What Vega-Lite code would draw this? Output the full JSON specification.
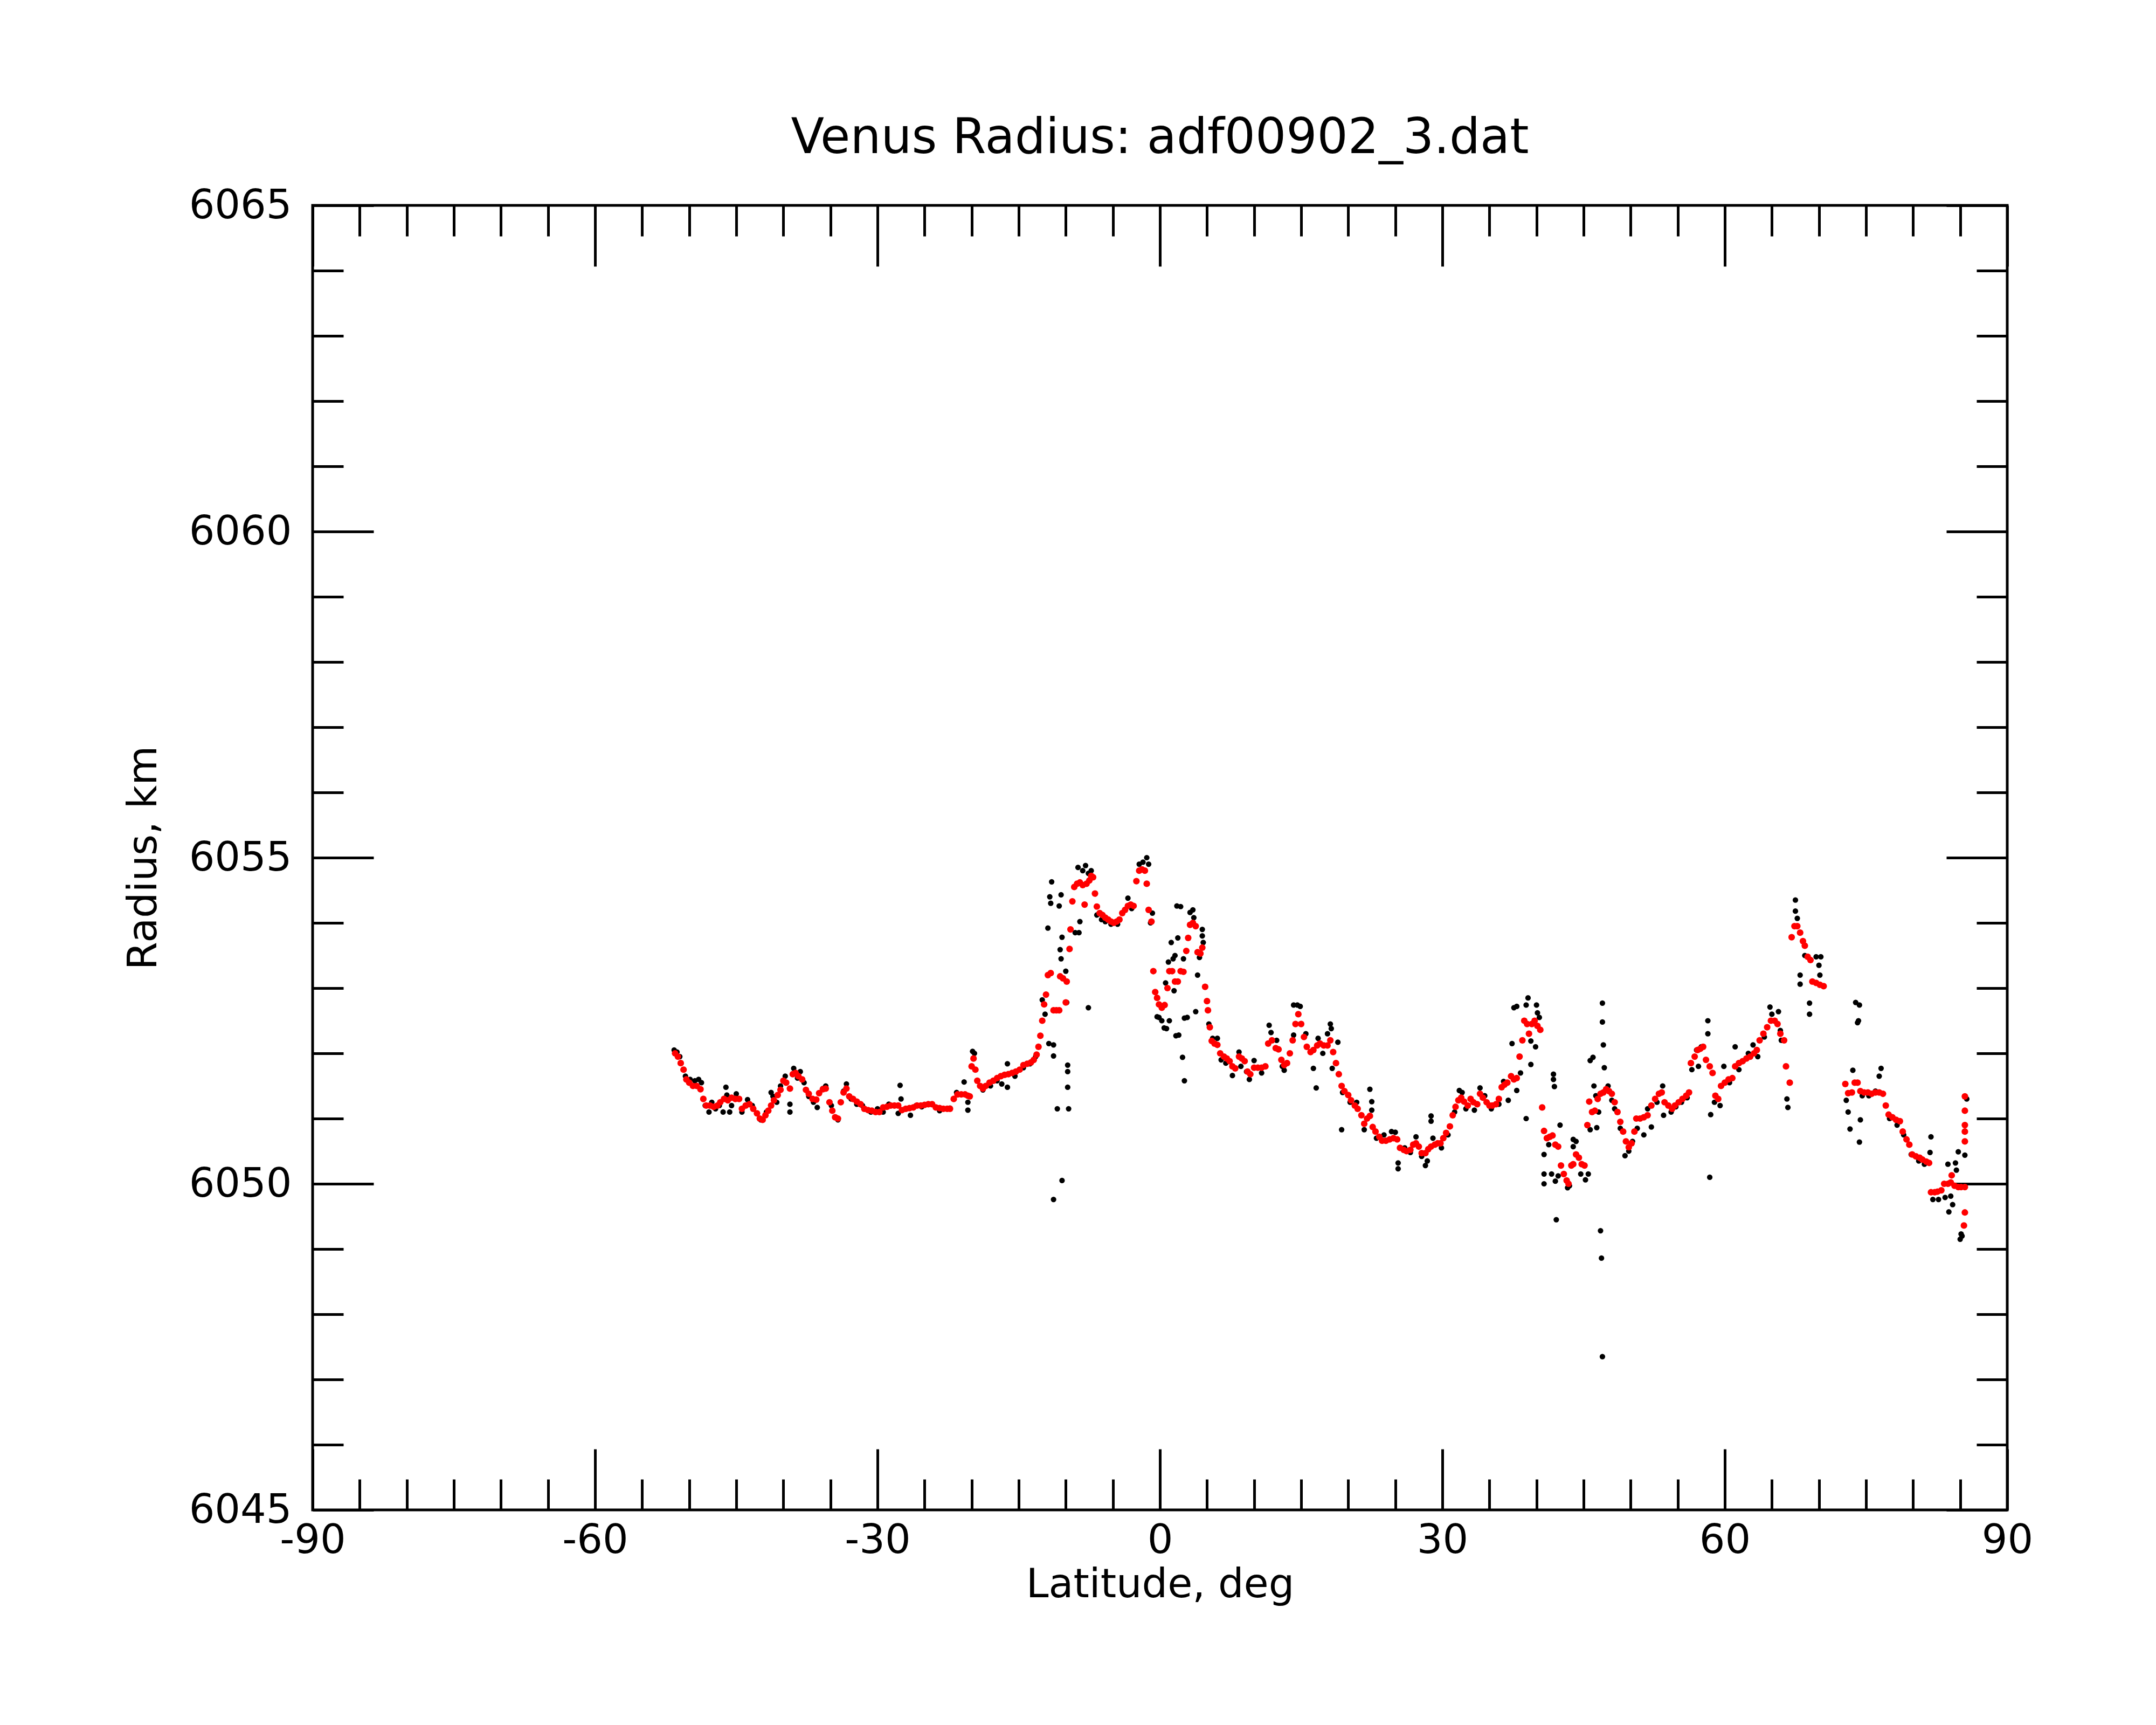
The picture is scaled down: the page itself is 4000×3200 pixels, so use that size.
{
  "$schema": "https://vega.github.io/schema/vega-lite/v6.json",
  "width": 3144,
  "height": 2420,
  "autosize": {"type": "none"},
  "padding": {"left": 580, "top": 381, "right": 276, "bottom": 399},
  "background": "white",
  "config": {
    "view": {"stroke": "black", "strokeWidth": 5},
    "font": "DejaVu Sans"
  },
  "title": {
    "text": "Venus Radius: adf00902_3.dat",
    "font": "DejaVu Sans",
    "fontSize": 90,
    "fontWeight": "normal",
    "color": "black",
    "anchor": "middle",
    "frame": "group",
    "baseline": "alphabetic",
    "offset": -30
  },
  "datasets": {
    "raw": [
      {"lat": -51.6, "rad": 6052.05}, {"lat": -51.3, "rad": 6052.02}, {"lat": -51.0, "rad": 6051.95}, {"lat": -50.4, "rad": 6051.65},
      {"lat": -49.9, "rad": 6051.6}, {"lat": -49.4, "rad": 6051.58}, {"lat": -49.0, "rad": 6051.6}, {"lat": -48.7, "rad": 6051.55},
      {"lat": -48.3, "rad": 6051.2}, {"lat": -47.9, "rad": 6051.1}, {"lat": -47.6, "rad": 6051.25}, {"lat": -47.2, "rad": 6051.15},
      {"lat": -46.8, "rad": 6051.2}, {"lat": -46.4, "rad": 6051.1}, {"lat": -46.1, "rad": 6051.48}, {"lat": -46.0, "rad": 6051.36},
      {"lat": -45.7, "rad": 6051.1}, {"lat": -45.5, "rad": 6051.2}, {"lat": -45.0, "rad": 6051.38}, {"lat": -44.4, "rad": 6051.1},
      {"lat": -43.8, "rad": 6051.29}, {"lat": -43.3, "rad": 6051.2}, {"lat": -42.4, "rad": 6050.98}, {"lat": -41.8, "rad": 6051.1},
      {"lat": -41.3, "rad": 6051.4}, {"lat": -41.1, "rad": 6051.34}, {"lat": -40.7, "rad": 6051.25}, {"lat": -40.3, "rad": 6051.5},
      {"lat": -39.8, "rad": 6051.65}, {"lat": -39.3, "rad": 6051.22}, {"lat": -39.3, "rad": 6051.1}, {"lat": -38.9, "rad": 6051.77},
      {"lat": -38.5, "rad": 6051.62}, {"lat": -38.2, "rad": 6051.72}, {"lat": -37.8, "rad": 6051.55}, {"lat": -37.3, "rad": 6051.34},
      {"lat": -36.8, "rad": 6051.25}, {"lat": -36.4, "rad": 6051.17}, {"lat": -35.8, "rad": 6051.46}, {"lat": -35.5, "rad": 6051.5},
      {"lat": -34.9, "rad": 6051.2}, {"lat": -34.2, "rad": 6050.98}, {"lat": -33.6, "rad": 6051.42}, {"lat": -33.3, "rad": 6051.53},
      {"lat": -32.8, "rad": 6051.3}, {"lat": -32.2, "rad": 6051.22}, {"lat": -31.6, "rad": 6051.2}, {"lat": -30.7, "rad": 6051.1},
      {"lat": -30.0, "rad": 6051.15}, {"lat": -29.4, "rad": 6051.1}, {"lat": -28.8, "rad": 6051.22}, {"lat": -27.8, "rad": 6051.08},
      {"lat": -27.6, "rad": 6051.51}, {"lat": -27.5, "rad": 6051.3}, {"lat": -26.5, "rad": 6051.05}, {"lat": -25.9, "rad": 6051.2},
      {"lat": -25.3, "rad": 6051.18}, {"lat": -24.2, "rad": 6051.22}, {"lat": -23.4, "rad": 6051.12}, {"lat": -22.3, "rad": 6051.16},
      {"lat": -21.6, "rad": 6051.4}, {"lat": -20.8, "rad": 6051.56}, {"lat": -20.4, "rad": 6051.25}, {"lat": -20.4, "rad": 6051.13},
      {"lat": -19.9, "rad": 6052.03}, {"lat": -19.7, "rad": 6052.0}, {"lat": -18.8, "rad": 6051.44}, {"lat": -18.0, "rad": 6051.5},
      {"lat": -17.3, "rad": 6051.58}, {"lat": -16.8, "rad": 6051.53}, {"lat": -16.2, "rad": 6051.84}, {"lat": -16.2, "rad": 6051.48},
      {"lat": -15.4, "rad": 6051.65}, {"lat": -14.5, "rad": 6051.78}, {"lat": -13.8, "rad": 6051.84}, {"lat": -13.2, "rad": 6051.95},
      {"lat": -12.5, "rad": 6052.82}, {"lat": -12.2, "rad": 6052.6}, {"lat": -11.9, "rad": 6053.92}, {"lat": -11.8, "rad": 6052.15},
      {"lat": -11.7, "rad": 6054.4}, {"lat": -11.6, "rad": 6054.3}, {"lat": -11.5, "rad": 6054.63}, {"lat": -11.3, "rad": 6052.13},
      {"lat": -11.3, "rad": 6051.96}, {"lat": -11.3, "rad": 6049.76}, {"lat": -10.9, "rad": 6051.15}, {"lat": -10.7, "rad": 6054.26},
      {"lat": -10.6, "rad": 6053.59}, {"lat": -10.5, "rad": 6054.43}, {"lat": -10.5, "rad": 6053.45}, {"lat": -10.4, "rad": 6053.78},
      {"lat": -10.4, "rad": 6050.05}, {"lat": -10.0, "rad": 6053.26}, {"lat": -9.9, "rad": 6052.78}, {"lat": -9.8, "rad": 6051.82},
      {"lat": -9.8, "rad": 6051.72}, {"lat": -9.8, "rad": 6051.48}, {"lat": -9.7, "rad": 6051.15}, {"lat": -9.0, "rad": 6053.85},
      {"lat": -8.7, "rad": 6054.85}, {"lat": -8.6, "rad": 6053.85}, {"lat": -8.5, "rad": 6054.02}, {"lat": -8.2, "rad": 6054.8},
      {"lat": -7.9, "rad": 6054.88}, {"lat": -7.6, "rad": 6054.76}, {"lat": -7.6, "rad": 6052.7}, {"lat": -7.3, "rad": 6054.8},
      {"lat": -6.7, "rad": 6054.12}, {"lat": -6.2, "rad": 6054.05}, {"lat": -5.8, "rad": 6054.02}, {"lat": -5.2, "rad": 6053.98},
      {"lat": -4.5, "rad": 6053.98}, {"lat": -3.4, "rad": 6054.38}, {"lat": -3.0, "rad": 6054.22}, {"lat": -2.2, "rad": 6054.9},
      {"lat": -1.8, "rad": 6054.93}, {"lat": -1.4, "rad": 6055.0}, {"lat": -1.2, "rad": 6054.9}, {"lat": -1.0, "rad": 6054.0},
      {"lat": -0.8, "rad": 6054.15}, {"lat": -0.3, "rad": 6052.56}, {"lat": -0.1, "rad": 6052.55}, {"lat": 0.2, "rad": 6052.5},
      {"lat": 0.45, "rad": 6052.39}, {"lat": 0.6, "rad": 6053.08}, {"lat": 0.7, "rad": 6052.38}, {"lat": 0.9, "rad": 6053.4},
      {"lat": 1.0, "rad": 6052.5}, {"lat": 1.2, "rad": 6053.7}, {"lat": 1.4, "rad": 6053.45}, {"lat": 1.5, "rad": 6052.96},
      {"lat": 1.6, "rad": 6053.5}, {"lat": 1.7, "rad": 6052.27}, {"lat": 1.8, "rad": 6054.26}, {"lat": 1.9, "rad": 6053.77},
      {"lat": 2.0, "rad": 6052.28}, {"lat": 2.2, "rad": 6054.25}, {"lat": 2.4, "rad": 6051.94}, {"lat": 2.5, "rad": 6053.45},
      {"lat": 2.6, "rad": 6052.54}, {"lat": 2.6, "rad": 6051.58}, {"lat": 2.9, "rad": 6052.55}, {"lat": 3.2, "rad": 6054.16},
      {"lat": 3.5, "rad": 6054.2}, {"lat": 3.6, "rad": 6054.08}, {"lat": 3.8, "rad": 6052.64}, {"lat": 4.0, "rad": 6053.2},
      {"lat": 4.2, "rad": 6053.47}, {"lat": 4.5, "rad": 6053.9}, {"lat": 4.5, "rad": 6053.8}, {"lat": 4.6, "rad": 6053.7},
      {"lat": 5.2, "rad": 6052.45}, {"lat": 5.6, "rad": 6052.23}, {"lat": 6.1, "rad": 6052.23}, {"lat": 6.5, "rad": 6051.9},
      {"lat": 7.0, "rad": 6051.85}, {"lat": 7.7, "rad": 6051.66}, {"lat": 8.4, "rad": 6052.02}, {"lat": 8.6, "rad": 6051.8},
      {"lat": 9.2, "rad": 6051.72}, {"lat": 9.5, "rad": 6051.6}, {"lat": 10.0, "rad": 6051.89}, {"lat": 10.8, "rad": 6051.7},
      {"lat": 11.6, "rad": 6052.43}, {"lat": 11.8, "rad": 6052.32}, {"lat": 12.4, "rad": 6052.2}, {"lat": 13.0, "rad": 6051.8},
      {"lat": 13.2, "rad": 6051.74}, {"lat": 14.2, "rad": 6052.74}, {"lat": 14.6, "rad": 6052.74}, {"lat": 14.9, "rad": 6052.72},
      {"lat": 14.2, "rad": 6052.28}, {"lat": 15.5, "rad": 6052.3}, {"lat": 16.3, "rad": 6051.77}, {"lat": 16.6, "rad": 6051.47},
      {"lat": 16.8, "rad": 6052.23}, {"lat": 17.3, "rad": 6052.0}, {"lat": 17.8, "rad": 6052.3}, {"lat": 18.1, "rad": 6052.45},
      {"lat": 18.2, "rad": 6052.38}, {"lat": 18.3, "rad": 6051.77}, {"lat": 18.9, "rad": 6052.17}, {"lat": 19.3, "rad": 6050.83},
      {"lat": 19.4, "rad": 6051.4}, {"lat": 20.2, "rad": 6051.25}, {"lat": 20.9, "rad": 6051.25}, {"lat": 21.7, "rad": 6050.83},
      {"lat": 22.3, "rad": 6051.45}, {"lat": 22.5, "rad": 6051.26}, {"lat": 22.5, "rad": 6051.13}, {"lat": 23.0, "rad": 6050.7},
      {"lat": 23.8, "rad": 6050.75}, {"lat": 24.6, "rad": 6050.8}, {"lat": 25.0, "rad": 6050.79}, {"lat": 25.3, "rad": 6050.32},
      {"lat": 25.3, "rad": 6050.23}, {"lat": 26.0, "rad": 6050.55}, {"lat": 26.6, "rad": 6050.48}, {"lat": 27.2, "rad": 6050.72},
      {"lat": 27.8, "rad": 6050.42}, {"lat": 28.2, "rad": 6050.28}, {"lat": 28.4, "rad": 6050.35}, {"lat": 28.8, "rad": 6051.04},
      {"lat": 28.8, "rad": 6050.96}, {"lat": 29.0, "rad": 6050.7}, {"lat": 29.9, "rad": 6050.55}, {"lat": 30.6, "rad": 6050.75},
      {"lat": 31.3, "rad": 6051.1}, {"lat": 31.8, "rad": 6051.43}, {"lat": 32.1, "rad": 6051.4}, {"lat": 32.5, "rad": 6051.15},
      {"lat": 33.4, "rad": 6051.13}, {"lat": 34.0, "rad": 6051.47}, {"lat": 34.5, "rad": 6051.35}, {"lat": 35.2, "rad": 6051.15},
      {"lat": 36.0, "rad": 6051.22}, {"lat": 36.5, "rad": 6051.57}, {"lat": 37.0, "rad": 6051.28}, {"lat": 37.4, "rad": 6052.15},
      {"lat": 37.6, "rad": 6052.7}, {"lat": 37.9, "rad": 6052.72}, {"lat": 37.9, "rad": 6051.43}, {"lat": 38.3, "rad": 6051.7},
      {"lat": 38.9, "rad": 6052.74}, {"lat": 39.1, "rad": 6052.85}, {"lat": 38.9, "rad": 6051.0}, {"lat": 39.4, "rad": 6052.19},
      {"lat": 39.4, "rad": 6051.83}, {"lat": 39.9, "rad": 6052.1}, {"lat": 40.0, "rad": 6052.74}, {"lat": 40.1, "rad": 6052.62},
      {"lat": 40.3, "rad": 6052.55}, {"lat": 40.8, "rad": 6050.45}, {"lat": 40.8, "rad": 6050.15}, {"lat": 40.8, "rad": 6050.0},
      {"lat": 41.3, "rad": 6050.6}, {"lat": 41.6, "rad": 6050.15}, {"lat": 41.8, "rad": 6051.68}, {"lat": 41.8, "rad": 6051.6},
      {"lat": 41.9, "rad": 6051.49}, {"lat": 42.0, "rad": 6050.04}, {"lat": 42.1, "rad": 6049.45}, {"lat": 42.3, "rad": 6050.12},
      {"lat": 42.5, "rad": 6050.9}, {"lat": 43.3, "rad": 6049.94}, {"lat": 43.5, "rad": 6049.97}, {"lat": 43.9, "rad": 6050.68},
      {"lat": 43.9, "rad": 6050.57}, {"lat": 44.2, "rad": 6050.65}, {"lat": 44.7, "rad": 6050.15}, {"lat": 45.2, "rad": 6050.06},
      {"lat": 45.5, "rad": 6050.15}, {"lat": 45.7, "rad": 6051.89}, {"lat": 45.7, "rad": 6050.83}, {"lat": 46.0, "rad": 6051.94},
      {"lat": 46.1, "rad": 6051.5}, {"lat": 46.3, "rad": 6051.35}, {"lat": 46.4, "rad": 6050.86}, {"lat": 46.6, "rad": 6051.1},
      {"lat": 46.8, "rad": 6049.28}, {"lat": 46.9, "rad": 6048.86}, {"lat": 47.0, "rad": 6047.35}, {"lat": 47.0, "rad": 6052.77},
      {"lat": 47.0, "rad": 6052.48}, {"lat": 47.1, "rad": 6052.13}, {"lat": 47.2, "rad": 6051.78}, {"lat": 47.6, "rad": 6051.5},
      {"lat": 48.0, "rad": 6051.28}, {"lat": 48.3, "rad": 6051.15}, {"lat": 48.9, "rad": 6050.85}, {"lat": 49.4, "rad": 6050.43},
      {"lat": 49.8, "rad": 6050.5}, {"lat": 50.2, "rad": 6050.65}, {"lat": 50.7, "rad": 6050.85}, {"lat": 51.4, "rad": 6050.75},
      {"lat": 51.8, "rad": 6051.15}, {"lat": 52.2, "rad": 6050.87}, {"lat": 52.8, "rad": 6051.25}, {"lat": 53.4, "rad": 6051.5},
      {"lat": 53.5, "rad": 6051.05}, {"lat": 54.3, "rad": 6051.1}, {"lat": 54.8, "rad": 6051.18}, {"lat": 55.4, "rad": 6051.25},
      {"lat": 56.0, "rad": 6051.32}, {"lat": 56.5, "rad": 6051.75}, {"lat": 57.0, "rad": 6052.05}, {"lat": 57.2, "rad": 6051.8},
      {"lat": 57.5, "rad": 6052.1}, {"lat": 58.2, "rad": 6052.5}, {"lat": 58.2, "rad": 6052.3}, {"lat": 58.4, "rad": 6050.1},
      {"lat": 58.5, "rad": 6051.06}, {"lat": 58.9, "rad": 6051.25}, {"lat": 59.5, "rad": 6051.2}, {"lat": 59.9, "rad": 6051.8},
      {"lat": 60.5, "rad": 6051.55}, {"lat": 61.1, "rad": 6052.1}, {"lat": 61.5, "rad": 6051.75}, {"lat": 62.5, "rad": 6052.0},
      {"lat": 63.0, "rad": 6052.13}, {"lat": 63.5, "rad": 6051.95}, {"lat": 64.2, "rad": 6052.25}, {"lat": 64.8, "rad": 6052.71},
      {"lat": 65.0, "rad": 6052.6}, {"lat": 65.7, "rad": 6052.64}, {"lat": 65.9, "rad": 6052.35}, {"lat": 66.0, "rad": 6052.2},
      {"lat": 66.6, "rad": 6051.3}, {"lat": 66.7, "rad": 6051.17}, {"lat": 67.5, "rad": 6054.35}, {"lat": 67.5, "rad": 6054.18},
      {"lat": 67.7, "rad": 6054.07}, {"lat": 68.0, "rad": 6053.2}, {"lat": 68.0, "rad": 6053.06}, {"lat": 68.5, "rad": 6053.5},
      {"lat": 69.0, "rad": 6052.77}, {"lat": 69.0, "rad": 6052.6}, {"lat": 69.7, "rad": 6053.48}, {"lat": 70.0, "rad": 6053.35},
      {"lat": 70.2, "rad": 6053.48}, {"lat": 70.1, "rad": 6053.2},
      {"lat": 72.9, "rad": 6051.28}, {"lat": 73.1, "rad": 6051.1}, {"lat": 73.3, "rad": 6050.84}, {"lat": 73.6, "rad": 6051.74},
      {"lat": 73.9, "rad": 6052.78}, {"lat": 74.1, "rad": 6052.47}, {"lat": 74.2, "rad": 6052.5}, {"lat": 74.3, "rad": 6052.74},
      {"lat": 74.3, "rad": 6050.64}, {"lat": 74.4, "rad": 6050.98}, {"lat": 74.6, "rad": 6051.35}, {"lat": 75.3, "rad": 6051.35},
      {"lat": 76.0, "rad": 6051.42}, {"lat": 76.4, "rad": 6051.65}, {"lat": 76.6, "rad": 6051.77}, {"lat": 77.5, "rad": 6051.0},
      {"lat": 78.3, "rad": 6050.9}, {"lat": 79.0, "rad": 6050.75}, {"lat": 79.8, "rad": 6050.45}, {"lat": 80.6, "rad": 6050.35},
      {"lat": 81.2, "rad": 6050.3}, {"lat": 81.9, "rad": 6050.72}, {"lat": 81.8, "rad": 6050.48}, {"lat": 82.1, "rad": 6049.76},
      {"lat": 82.7, "rad": 6049.76}, {"lat": 83.4, "rad": 6049.79}, {"lat": 83.7, "rad": 6050.3}, {"lat": 83.8, "rad": 6049.57},
      {"lat": 84.0, "rad": 6049.81}, {"lat": 84.2, "rad": 6049.68}, {"lat": 84.5, "rad": 6050.32}, {"lat": 84.8, "rad": 6050.49},
      {"lat": 84.6, "rad": 6050.21}, {"lat": 85.0, "rad": 6049.15}, {"lat": 85.1, "rad": 6049.23}, {"lat": 85.2, "rad": 6049.2},
      {"lat": 85.5, "rad": 6050.44}, {"lat": 85.7, "rad": 6051.3}
    ],
    "smooth": [
      {"lat": -51.5, "rad": 6052.0}, {"lat": -51.2, "rad": 6051.95}, {"lat": -50.9, "rad": 6051.85}, {"lat": -50.6, "rad": 6051.75},
      {"lat": -50.3, "rad": 6051.6}, {"lat": -50.0, "rad": 6051.55}, {"lat": -49.6, "rad": 6051.5}, {"lat": -49.2, "rad": 6051.5},
      {"lat": -48.8, "rad": 6051.45}, {"lat": -48.5, "rad": 6051.3}, {"lat": -48.2, "rad": 6051.2}, {"lat": -47.8, "rad": 6051.2},
      {"lat": -47.4, "rad": 6051.18}, {"lat": -47.0, "rad": 6051.2}, {"lat": -46.7, "rad": 6051.25}, {"lat": -46.3, "rad": 6051.3},
      {"lat": -45.9, "rad": 6051.28}, {"lat": -45.5, "rad": 6051.32}, {"lat": -45.1, "rad": 6051.3}, {"lat": -44.7, "rad": 6051.3},
      {"lat": -44.4, "rad": 6051.15}, {"lat": -44.0, "rad": 6051.2}, {"lat": -43.6, "rad": 6051.22}, {"lat": -43.2, "rad": 6051.15},
      {"lat": -42.8, "rad": 6051.08}, {"lat": -42.5, "rad": 6051.0}, {"lat": -42.2, "rad": 6050.98}, {"lat": -41.9, "rad": 6051.05},
      {"lat": -41.6, "rad": 6051.12}, {"lat": -41.3, "rad": 6051.2}, {"lat": -41.0, "rad": 6051.28}, {"lat": -40.6, "rad": 6051.36},
      {"lat": -40.3, "rad": 6051.44}, {"lat": -40.0, "rad": 6051.58}, {"lat": -39.7, "rad": 6051.55}, {"lat": -39.3, "rad": 6051.46},
      {"lat": -39.0, "rad": 6051.68}, {"lat": -38.7, "rad": 6051.7}, {"lat": -38.4, "rad": 6051.65}, {"lat": -38.0, "rad": 6051.6},
      {"lat": -37.6, "rad": 6051.44}, {"lat": -37.3, "rad": 6051.38}, {"lat": -36.9, "rad": 6051.3}, {"lat": -36.5, "rad": 6051.29},
      {"lat": -36.2, "rad": 6051.39}, {"lat": -35.8, "rad": 6051.45}, {"lat": -35.5, "rad": 6051.46}, {"lat": -35.1, "rad": 6051.25},
      {"lat": -34.8, "rad": 6051.12}, {"lat": -34.5, "rad": 6051.02}, {"lat": -34.2, "rad": 6051.0}, {"lat": -33.9, "rad": 6051.25},
      {"lat": -33.6, "rad": 6051.4}, {"lat": -33.3, "rad": 6051.46}, {"lat": -33.0, "rad": 6051.34}, {"lat": -32.6, "rad": 6051.3},
      {"lat": -32.2, "rad": 6051.26}, {"lat": -31.8, "rad": 6051.22}, {"lat": -31.4, "rad": 6051.15}, {"lat": -31.0, "rad": 6051.13},
      {"lat": -30.6, "rad": 6051.12}, {"lat": -30.2, "rad": 6051.1}, {"lat": -29.8, "rad": 6051.1}, {"lat": -29.4, "rad": 6051.17},
      {"lat": -29.0, "rad": 6051.18}, {"lat": -28.6, "rad": 6051.2}, {"lat": -28.2, "rad": 6051.2}, {"lat": -27.8, "rad": 6051.2},
      {"lat": -27.4, "rad": 6051.13}, {"lat": -27.0, "rad": 6051.15}, {"lat": -26.6, "rad": 6051.16}, {"lat": -26.2, "rad": 6051.17},
      {"lat": -25.8, "rad": 6051.2}, {"lat": -25.4, "rad": 6051.2}, {"lat": -25.0, "rad": 6051.21}, {"lat": -24.6, "rad": 6051.22},
      {"lat": -24.2, "rad": 6051.22}, {"lat": -23.8, "rad": 6051.17}, {"lat": -23.4, "rad": 6051.16}, {"lat": -23.0, "rad": 6051.15},
      {"lat": -22.6, "rad": 6051.15}, {"lat": -22.3, "rad": 6051.15}, {"lat": -21.9, "rad": 6051.3}, {"lat": -21.5, "rad": 6051.37},
      {"lat": -21.1, "rad": 6051.37}, {"lat": -20.7, "rad": 6051.37}, {"lat": -20.4, "rad": 6051.35}, {"lat": -20.2, "rad": 6051.34},
      {"lat": -20.0, "rad": 6051.8}, {"lat": -19.8, "rad": 6051.92}, {"lat": -19.6, "rad": 6051.75}, {"lat": -19.4, "rad": 6051.58},
      {"lat": -19.1, "rad": 6051.5}, {"lat": -18.8, "rad": 6051.46}, {"lat": -18.5, "rad": 6051.5}, {"lat": -18.1, "rad": 6051.55},
      {"lat": -17.7, "rad": 6051.58}, {"lat": -17.3, "rad": 6051.62}, {"lat": -16.9, "rad": 6051.65}, {"lat": -16.5, "rad": 6051.67},
      {"lat": -16.1, "rad": 6051.68}, {"lat": -15.7, "rad": 6051.7}, {"lat": -15.3, "rad": 6051.72}, {"lat": -14.9, "rad": 6051.75},
      {"lat": -14.5, "rad": 6051.82}, {"lat": -14.1, "rad": 6051.84}, {"lat": -13.7, "rad": 6051.86}, {"lat": -13.4, "rad": 6051.9},
      {"lat": -13.1, "rad": 6051.98}, {"lat": -12.9, "rad": 6052.1}, {"lat": -12.7, "rad": 6052.27}, {"lat": -12.5, "rad": 6052.5},
      {"lat": -12.3, "rad": 6052.75}, {"lat": -12.1, "rad": 6052.9}, {"lat": -11.9, "rad": 6053.2}, {"lat": -11.6, "rad": 6053.23},
      {"lat": -11.3, "rad": 6052.66}, {"lat": -11.0, "rad": 6052.66}, {"lat": -10.7, "rad": 6052.66}, {"lat": -10.6, "rad": 6053.18},
      {"lat": -10.3, "rad": 6053.15}, {"lat": -10.0, "rad": 6052.78}, {"lat": -9.9, "rad": 6053.1}, {"lat": -9.6, "rad": 6053.6},
      {"lat": -9.5, "rad": 6053.9}, {"lat": -9.3, "rad": 6054.33}, {"lat": -9.1, "rad": 6054.55}, {"lat": -8.8, "rad": 6054.6},
      {"lat": -8.5, "rad": 6054.62}, {"lat": -8.2, "rad": 6054.58}, {"lat": -8.0, "rad": 6054.28}, {"lat": -7.8, "rad": 6054.6},
      {"lat": -7.5, "rad": 6054.65}, {"lat": -7.3, "rad": 6054.72}, {"lat": -7.1, "rad": 6054.7}, {"lat": -6.9, "rad": 6054.45},
      {"lat": -6.7, "rad": 6054.25}, {"lat": -6.4, "rad": 6054.15}, {"lat": -6.1, "rad": 6054.12}, {"lat": -5.8, "rad": 6054.08},
      {"lat": -5.5, "rad": 6054.05}, {"lat": -5.2, "rad": 6054.02}, {"lat": -4.9, "rad": 6054.0}, {"lat": -4.6, "rad": 6054.02},
      {"lat": -4.3, "rad": 6054.05}, {"lat": -4.0, "rad": 6054.15}, {"lat": -3.7, "rad": 6054.2}, {"lat": -3.4, "rad": 6054.26},
      {"lat": -3.1, "rad": 6054.28}, {"lat": -2.8, "rad": 6054.26}, {"lat": -2.5, "rad": 6054.64}, {"lat": -2.2, "rad": 6054.8},
      {"lat": -1.9, "rad": 6054.82}, {"lat": -1.6, "rad": 6054.8}, {"lat": -1.4, "rad": 6054.6}, {"lat": -1.2, "rad": 6054.2},
      {"lat": -0.9, "rad": 6054.02}, {"lat": -0.7, "rad": 6053.26}, {"lat": -0.5, "rad": 6052.94}, {"lat": -0.3, "rad": 6052.85},
      {"lat": -0.1, "rad": 6052.75}, {"lat": 0.2, "rad": 6052.7}, {"lat": 0.5, "rad": 6052.74}, {"lat": 0.8, "rad": 6053.0},
      {"lat": 1.0, "rad": 6053.26}, {"lat": 1.3, "rad": 6053.26}, {"lat": 1.6, "rad": 6053.1}, {"lat": 1.9, "rad": 6053.1},
      {"lat": 2.2, "rad": 6053.26}, {"lat": 2.5, "rad": 6053.25}, {"lat": 2.8, "rad": 6053.57}, {"lat": 3.0, "rad": 6053.77},
      {"lat": 3.2, "rad": 6053.97}, {"lat": 3.5, "rad": 6054.0}, {"lat": 3.8, "rad": 6053.95}, {"lat": 4.0, "rad": 6053.55},
      {"lat": 4.3, "rad": 6053.53}, {"lat": 4.5, "rad": 6053.62}, {"lat": 4.8, "rad": 6053.02}, {"lat": 5.0, "rad": 6052.8},
      {"lat": 5.1, "rad": 6052.66}, {"lat": 5.3, "rad": 6052.4}, {"lat": 5.5, "rad": 6052.19}, {"lat": 5.8, "rad": 6052.15},
      {"lat": 6.1, "rad": 6052.13}, {"lat": 6.4, "rad": 6052.0}, {"lat": 6.8, "rad": 6051.95}, {"lat": 7.1, "rad": 6051.92},
      {"lat": 7.4, "rad": 6051.88}, {"lat": 7.7, "rad": 6051.8}, {"lat": 8.0, "rad": 6051.77}, {"lat": 8.4, "rad": 6051.95},
      {"lat": 8.7, "rad": 6051.92}, {"lat": 9.0, "rad": 6051.88}, {"lat": 9.3, "rad": 6051.72}, {"lat": 9.6, "rad": 6051.68},
      {"lat": 10.0, "rad": 6051.78}, {"lat": 10.4, "rad": 6051.78}, {"lat": 10.8, "rad": 6051.78}, {"lat": 11.2, "rad": 6051.8},
      {"lat": 11.5, "rad": 6052.15}, {"lat": 11.9, "rad": 6052.2}, {"lat": 12.3, "rad": 6052.08}, {"lat": 12.6, "rad": 6052.06},
      {"lat": 12.9, "rad": 6051.9}, {"lat": 13.2, "rad": 6051.82}, {"lat": 13.5, "rad": 6051.85}, {"lat": 13.8, "rad": 6052.0},
      {"lat": 14.1, "rad": 6052.2}, {"lat": 14.4, "rad": 6052.45}, {"lat": 14.7, "rad": 6052.6}, {"lat": 15.0, "rad": 6052.45},
      {"lat": 15.3, "rad": 6052.25}, {"lat": 15.6, "rad": 6052.1}, {"lat": 16.0, "rad": 6052.02}, {"lat": 16.3, "rad": 6052.05},
      {"lat": 16.7, "rad": 6052.12}, {"lat": 17.0, "rad": 6052.15}, {"lat": 17.4, "rad": 6052.12}, {"lat": 17.8, "rad": 6052.12},
      {"lat": 18.1, "rad": 6052.2}, {"lat": 18.4, "rad": 6052.02}, {"lat": 18.7, "rad": 6051.85}, {"lat": 19.0, "rad": 6051.68},
      {"lat": 19.3, "rad": 6051.5}, {"lat": 19.6, "rad": 6051.42}, {"lat": 20.0, "rad": 6051.36}, {"lat": 20.3, "rad": 6051.28},
      {"lat": 20.7, "rad": 6051.2}, {"lat": 21.0, "rad": 6051.15}, {"lat": 21.4, "rad": 6051.05}, {"lat": 21.7, "rad": 6050.92},
      {"lat": 22.0, "rad": 6051.0}, {"lat": 22.3, "rad": 6051.04}, {"lat": 22.6, "rad": 6050.87}, {"lat": 22.9, "rad": 6050.8},
      {"lat": 23.3, "rad": 6050.72}, {"lat": 23.6, "rad": 6050.66}, {"lat": 24.0, "rad": 6050.66}, {"lat": 24.4, "rad": 6050.68},
      {"lat": 24.8, "rad": 6050.7}, {"lat": 25.2, "rad": 6050.68}, {"lat": 25.5, "rad": 6050.55}, {"lat": 25.9, "rad": 6050.52},
      {"lat": 26.2, "rad": 6050.5}, {"lat": 26.6, "rad": 6050.52}, {"lat": 26.9, "rad": 6050.6}, {"lat": 27.2, "rad": 6050.62},
      {"lat": 27.5, "rad": 6050.57}, {"lat": 27.8, "rad": 6050.47}, {"lat": 28.2, "rad": 6050.47}, {"lat": 28.5, "rad": 6050.53},
      {"lat": 28.8, "rad": 6050.57}, {"lat": 29.2, "rad": 6050.6}, {"lat": 29.5, "rad": 6050.62}, {"lat": 29.8, "rad": 6050.62},
      {"lat": 30.1, "rad": 6050.7}, {"lat": 30.4, "rad": 6050.78}, {"lat": 30.8, "rad": 6050.88}, {"lat": 31.1, "rad": 6051.05},
      {"lat": 31.4, "rad": 6051.18}, {"lat": 31.7, "rad": 6051.28}, {"lat": 32.0, "rad": 6051.32}, {"lat": 32.3, "rad": 6051.26},
      {"lat": 32.7, "rad": 6051.2}, {"lat": 33.0, "rad": 6051.3}, {"lat": 33.3, "rad": 6051.25}, {"lat": 33.7, "rad": 6051.22},
      {"lat": 34.0, "rad": 6051.38}, {"lat": 34.3, "rad": 6051.32}, {"lat": 34.7, "rad": 6051.25}, {"lat": 35.0, "rad": 6051.2},
      {"lat": 35.3, "rad": 6051.2}, {"lat": 35.7, "rad": 6051.22}, {"lat": 36.0, "rad": 6051.3}, {"lat": 36.3, "rad": 6051.48},
      {"lat": 36.6, "rad": 6051.52}, {"lat": 36.9, "rad": 6051.55}, {"lat": 37.3, "rad": 6051.65}, {"lat": 37.6, "rad": 6051.6},
      {"lat": 37.9, "rad": 6051.62}, {"lat": 38.2, "rad": 6051.95}, {"lat": 38.5, "rad": 6052.2}, {"lat": 38.7, "rad": 6052.5},
      {"lat": 39.0, "rad": 6052.45}, {"lat": 39.2, "rad": 6052.3}, {"lat": 39.5, "rad": 6052.45}, {"lat": 39.8, "rad": 6052.5},
      {"lat": 40.1, "rad": 6052.42}, {"lat": 40.4, "rad": 6052.36}, {"lat": 40.6, "rad": 6051.17}, {"lat": 40.8, "rad": 6050.81},
      {"lat": 41.1, "rad": 6050.7}, {"lat": 41.4, "rad": 6050.72}, {"lat": 41.7, "rad": 6050.74}, {"lat": 42.0, "rad": 6050.6},
      {"lat": 42.3, "rad": 6050.57}, {"lat": 42.6, "rad": 6050.28}, {"lat": 42.9, "rad": 6050.15}, {"lat": 43.2, "rad": 6050.05},
      {"lat": 43.4, "rad": 6050.0}, {"lat": 43.7, "rad": 6050.28}, {"lat": 43.9, "rad": 6050.3}, {"lat": 44.2, "rad": 6050.45},
      {"lat": 44.5, "rad": 6050.4}, {"lat": 44.8, "rad": 6050.3}, {"lat": 45.1, "rad": 6050.28}, {"lat": 45.4, "rad": 6050.9},
      {"lat": 45.6, "rad": 6051.26}, {"lat": 45.9, "rad": 6051.1}, {"lat": 46.2, "rad": 6051.12}, {"lat": 46.5, "rad": 6051.3},
      {"lat": 46.8, "rad": 6051.38}, {"lat": 47.1, "rad": 6051.4}, {"lat": 47.4, "rad": 6051.45}, {"lat": 47.7, "rad": 6051.42},
      {"lat": 48.0, "rad": 6051.38}, {"lat": 48.3, "rad": 6051.25}, {"lat": 48.6, "rad": 6051.1}, {"lat": 48.9, "rad": 6050.95},
      {"lat": 49.2, "rad": 6050.8}, {"lat": 49.5, "rad": 6050.65}, {"lat": 49.8, "rad": 6050.56}, {"lat": 50.1, "rad": 6050.62},
      {"lat": 50.4, "rad": 6050.8}, {"lat": 50.6, "rad": 6051.0}, {"lat": 51.0, "rad": 6051.0}, {"lat": 51.4, "rad": 6051.02},
      {"lat": 51.8, "rad": 6051.05}, {"lat": 52.2, "rad": 6051.2}, {"lat": 52.6, "rad": 6051.3}, {"lat": 53.0, "rad": 6051.38},
      {"lat": 53.3, "rad": 6051.4}, {"lat": 53.6, "rad": 6051.25}, {"lat": 54.0, "rad": 6051.2}, {"lat": 54.4, "rad": 6051.15},
      {"lat": 54.7, "rad": 6051.2}, {"lat": 55.1, "rad": 6051.25}, {"lat": 55.5, "rad": 6051.3}, {"lat": 55.9, "rad": 6051.35},
      {"lat": 56.2, "rad": 6051.4}, {"lat": 56.4, "rad": 6051.85}, {"lat": 56.8, "rad": 6051.95}, {"lat": 57.1, "rad": 6052.05},
      {"lat": 57.4, "rad": 6052.07}, {"lat": 57.7, "rad": 6052.1}, {"lat": 58.0, "rad": 6051.9}, {"lat": 58.4, "rad": 6051.8},
      {"lat": 58.7, "rad": 6051.7}, {"lat": 59.0, "rad": 6051.35}, {"lat": 59.3, "rad": 6051.3}, {"lat": 59.6, "rad": 6051.5},
      {"lat": 60.0, "rad": 6051.55}, {"lat": 60.4, "rad": 6051.6}, {"lat": 60.8, "rad": 6051.62}, {"lat": 61.1, "rad": 6051.8},
      {"lat": 61.5, "rad": 6051.85}, {"lat": 61.9, "rad": 6051.88}, {"lat": 62.3, "rad": 6051.92}, {"lat": 62.7, "rad": 6051.95},
      {"lat": 63.1, "rad": 6052.0}, {"lat": 63.4, "rad": 6052.05}, {"lat": 63.7, "rad": 6052.2}, {"lat": 64.1, "rad": 6052.3},
      {"lat": 64.5, "rad": 6052.4}, {"lat": 64.9, "rad": 6052.5}, {"lat": 65.3, "rad": 6052.5}, {"lat": 65.6, "rad": 6052.45},
      {"lat": 65.9, "rad": 6052.3}, {"lat": 66.3, "rad": 6052.2}, {"lat": 66.5, "rad": 6051.8}, {"lat": 66.9, "rad": 6051.55},
      {"lat": 67.1, "rad": 6053.78}, {"lat": 67.4, "rad": 6053.95}, {"lat": 67.7, "rad": 6053.95}, {"lat": 68.0, "rad": 6053.85},
      {"lat": 68.3, "rad": 6053.72}, {"lat": 68.5, "rad": 6053.65}, {"lat": 68.8, "rad": 6053.48}, {"lat": 69.1, "rad": 6053.43},
      {"lat": 69.3, "rad": 6053.1}, {"lat": 69.7, "rad": 6053.08}, {"lat": 70.1, "rad": 6053.05}, {"lat": 70.5, "rad": 6053.03},
      {"lat": 72.8, "rad": 6051.53}, {"lat": 73.1, "rad": 6051.39}, {"lat": 73.5, "rad": 6051.4}, {"lat": 73.8, "rad": 6051.55},
      {"lat": 74.1, "rad": 6051.55}, {"lat": 74.4, "rad": 6051.42}, {"lat": 74.8, "rad": 6051.4}, {"lat": 75.2, "rad": 6051.4},
      {"lat": 75.6, "rad": 6051.38}, {"lat": 76.0, "rad": 6051.4}, {"lat": 76.4, "rad": 6051.4}, {"lat": 76.8, "rad": 6051.38},
      {"lat": 77.1, "rad": 6051.2}, {"lat": 77.4, "rad": 6051.06}, {"lat": 77.8, "rad": 6051.02}, {"lat": 78.2, "rad": 6050.98},
      {"lat": 78.6, "rad": 6050.96}, {"lat": 78.9, "rad": 6050.8}, {"lat": 79.3, "rad": 6050.68}, {"lat": 79.6, "rad": 6050.6},
      {"lat": 79.9, "rad": 6050.45}, {"lat": 80.3, "rad": 6050.42}, {"lat": 80.7, "rad": 6050.4}, {"lat": 81.0, "rad": 6050.37},
      {"lat": 81.4, "rad": 6050.34}, {"lat": 81.7, "rad": 6050.32}, {"lat": 81.9, "rad": 6049.87}, {"lat": 82.3, "rad": 6049.87},
      {"lat": 82.6, "rad": 6049.88}, {"lat": 83.0, "rad": 6049.9}, {"lat": 83.3, "rad": 6050.0}, {"lat": 83.7, "rad": 6050.0},
      {"lat": 84.0, "rad": 6050.02}, {"lat": 84.1, "rad": 6050.13}, {"lat": 84.4, "rad": 6049.97}, {"lat": 84.8, "rad": 6049.95},
      {"lat": 85.1, "rad": 6049.95}, {"lat": 85.5, "rad": 6049.95}, {"lat": 85.4, "rad": 6049.36}, {"lat": 85.5, "rad": 6049.56},
      {"lat": 85.5, "rad": 6050.65}, {"lat": 85.5, "rad": 6050.8}, {"lat": 85.5, "rad": 6050.9}, {"lat": 85.5, "rad": 6051.12},
      {"lat": 85.5, "rad": 6051.34}
    ]
  },
  "layer": [
    {
      "data": {"name": "raw"},
      "mark": {"type": "circle", "color": "black", "size": 105, "opacity": 1},
      "encoding": {
        "x": {
          "field": "lat", "type": "quantitative",
          "scale": {"domain": [-90, 90], "nice": false, "zero": false},
          "axis": {
            "orient": "bottom",
            "values": [-90, -85, -80, -75, -70, -65, -60, -55, -50, -45, -40, -35, -30, -25, -20, -15, -10, -5, 0, 5, 10, 15, 20, 25, 30, 35, 40, 45, 50, 55, 60, 65, 70, 75, 80, 85, 90],
            "title": "Latitude, deg",
            "titleFont": "DejaVu Sans", "titleFontSize": 75, "titleFontWeight": "normal", "titleColor": "black", "titlePadding": 8,
            "labelFont": "DejaVu Sans", "labelFontSize": 75, "labelColor": "black", "labelLimit": 0,
            "labelExpr": "datum.value % 30 === 0 ? '' + datum.value : ''",
            "labelFlush": false, "labelOverlap": false,
            "labelPadding": {"condition": {"test": "datum.value % 30 === 0", "value": 133}, "value": 77},
            "tickSize": {"condition": {"test": "datum.value % 30 === 0", "value": -113}, "value": -57},
            "tickColor": "black", "tickWidth": 5,
            "domain": false, "grid": false
          }
        },
        "y": {
          "field": "rad", "type": "quantitative",
          "scale": {"domain": [6045, 6065], "nice": false, "zero": false},
          "axis": {
            "orient": "left",
            "values": [6045, 6046, 6047, 6048, 6049, 6050, 6051, 6052, 6053, 6054, 6055, 6056, 6057, 6058, 6059, 6060, 6061, 6062, 6063, 6064, 6065],
            "title": "Radius, km",
            "titleFont": "DejaVu Sans", "titleFontSize": 75, "titleFontWeight": "normal", "titleColor": "black", "titlePadding": 75,
            "labelFont": "DejaVu Sans", "labelFontSize": 75, "labelColor": "black", "labelLimit": 0,
            "labelExpr": "datum.value % 5 === 0 ? '' + datum.value : ''",
            "labelFlush": false, "labelOverlap": false,
            "labelPadding": {"condition": {"test": "datum.value % 5 === 0", "value": 152}, "value": 96},
            "tickSize": {"condition": {"test": "datum.value % 5 === 0", "value": -113}, "value": -57},
            "tickColor": "black", "tickWidth": 5,
            "domain": false, "grid": false
          }
        }
      }
    },
    {
      "data": {"name": "smooth"},
      "mark": {"type": "circle", "color": "#ff0000", "size": 150, "opacity": 1},
      "encoding": {
        "x": {
          "field": "lat", "type": "quantitative",
          "scale": {"domain": [-90, 90], "nice": false, "zero": false},
          "axis": {
            "orient": "top",
            "values": [-90, -85, -80, -75, -70, -65, -60, -55, -50, -45, -40, -35, -30, -25, -20, -15, -10, -5, 0, 5, 10, 15, 20, 25, 30, 35, 40, 45, 50, 55, 60, 65, 70, 75, 80, 85, 90],
            "title": null, "labels": false,
            "tickSize": {"condition": {"test": "datum.value % 30 === 0", "value": -113}, "value": -57},
            "tickColor": "black", "tickWidth": 5,
            "domain": false, "grid": false
          }
        },
        "y": {
          "field": "rad", "type": "quantitative",
          "scale": {"domain": [6045, 6065], "nice": false, "zero": false},
          "axis": {
            "orient": "right",
            "values": [6045, 6046, 6047, 6048, 6049, 6050, 6051, 6052, 6053, 6054, 6055, 6056, 6057, 6058, 6059, 6060, 6061, 6062, 6063, 6064, 6065],
            "title": null, "labels": false,
            "tickSize": {"condition": {"test": "datum.value % 5 === 0", "value": -113}, "value": -57},
            "tickColor": "black", "tickWidth": 5,
            "domain": false, "grid": false
          }
        }
      }
    }
  ],
  "resolve": {"axis": {"x": "independent", "y": "independent"}}
}
